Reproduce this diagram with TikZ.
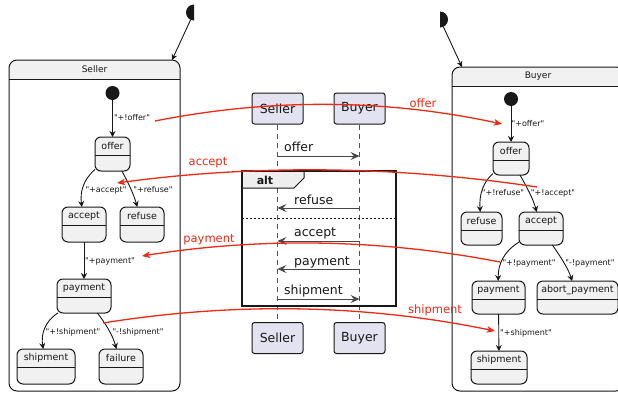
\documentclass[tikz,border=0pt]{standalone}
\usepackage{fontspec}
\setmainfont{DejaVu Sans}[Ligatures=TeXOff]
\usetikzlibrary{arrows.meta,calc}

\definecolor{stfill}{HTML}{F1F1F1}
\definecolor{ink}{HTML}{181818}
\definecolor{partfill}{HTML}{E2E2F0}
\definecolor{altfill}{HTML}{EEEEEE}
\definecolor{msgred}{RGB}{240,40,20}

\tikzset{
  stbox/.style={draw=ink, fill=stfill, line width=1pt, rounded corners=6pt, inner sep=0pt, outer sep=0pt},
  compbox/.style={fill=white, inner sep=0pt, outer sep=0pt},
  stline/.style={draw=ink, line width=1pt},
  stname/.style={inner sep=0pt, font=\fontsize{9.5}{11}\selectfont, text=ink},
  comptitle/.style={inner sep=0pt, font=\fontsize{9}{11}\selectfont, text=ink},
  edgelbl/.style={inner sep=0pt, font=\fontsize{8}{10}\selectfont, text=ink},
  initdot/.style={circle, fill=ink, inner sep=0pt, outer sep=0pt, minimum size=14pt},
  bigdot/.style={circle, fill=ink, inner sep=0pt, outer sep=0pt, minimum size=16pt},
  trans/.style={draw=ink, line width=0.9pt, -{Stealth[length=6pt,width=6pt,inset=2pt]}},
  part/.style={draw=ink, fill=partfill, line width=1pt, rounded corners=2.5pt, minimum width=51pt, minimum height=31pt, inner sep=0pt, font=\fontsize{12.5}{14}\selectfont, text=ink},
  lifeline/.style={draw=ink!75, line width=1pt, dash pattern=on 5pt off 4pt},
  msg/.style={draw=ink!80, line width=1pt, -{Stealth[length=9pt,width=8pt,inset=3.5pt]}},
  msgtxt/.style={inner sep=0pt, font=\fontsize{12.5}{14}\selectfont, text=ink},
  redmsg/.style={draw=msgred, line width=1.3pt, -{Stealth[length=8pt,width=6.5pt,inset=2pt]}},
  redtxt/.style={inner sep=0pt, font=\fontsize{11.5}{13}\selectfont, text=msgred},
}

% simple state: name, centre x, top y, width, height, label
\newcommand\umlstate[6]{%
  \node[stbox, minimum width=#4pt, minimum height=#5pt, anchor=north] (#1) at (#2,#3) {};
  \draw[stline] ([yshift=-18pt]#1.north west) -- ([yshift=-18pt]#1.north east);
  \node[stname] (#1-name) at ([yshift=-9pt]#1.north) {#6};
}

% composite state frame: name, left x, top y, width, height, title
\newcommand\umlcomposite[6]{%
  \node[compbox, minimum width=#4pt, minimum height=#5pt, anchor=north west] (#1) at (#2,#3) {};
  \begin{scope}
    \clip[rounded corners=8pt] (#1.north west) rectangle (#1.south east);
    \fill[stfill] (#1.north west) rectangle ([yshift=-19pt]#1.north east);
  \end{scope}
  \draw[stline, rounded corners=8pt] (#1.north west) rectangle (#1.south east);
  \draw[stline] ([yshift=-19pt]#1.north west) -- ([yshift=-19pt]#1.north east);
  \node[comptitle] (#1-title) at ([yshift=-9.5pt]#1.north) {#6};
}

\begin{document}
\begin{tikzpicture}[x=1pt, y=-1pt]
\fill[white] (0,0) rectangle (618,394);
\useasboundingbox (0,0) rectangle (618,394);

% ---------------- Seller state machine ----------------
\umlcomposite{seller}{9}{60}{171}{331}{Seller}
\begin{scope}
  \clip (150,0) rectangle (194,40);
  \node[bigdot] (sellerstart) at (194,12.5) {};
\end{scope}
\draw[trans] (sellerstart) -- ([xshift=-8pt]seller.north east);

\node[initdot] (s_init) at (112.5,93) {};
\umlstate{s_offer}{112.5}{137}{35}{34}{offer}
\umlstate{s_accept}{84}{207}{44}{35}{accept}
\umlstate{s_refuse}{142}{207}{44}{35}{refuse}
\umlstate{s_pay}{84}{279}{54}{34}{payment}
\umlstate{s_ship}{46}{349}{58}{35}{shipment}
\umlstate{s_fail}{121}{349}{44}{35}{failure}

\draw[trans] (s_init) -- (s_offer);
\draw[trans] (s_offer) .. controls (83,180) and (80,192) .. (s_accept);
\draw[trans] (s_offer) .. controls (128,182) and (134,195) .. (s_refuse);
\draw[trans] (s_accept) -- (s_pay);
\draw[trans] (s_pay) .. controls (44,322) and (41,335) .. (s_ship);
\draw[trans] (s_pay) .. controls (106,324) and (113,336) .. (s_fail);

\node[edgelbl] (l_s1) at (132,118) {"+!offer"};
\node[edgelbl] (l_s2) at (106,190) {"+accept"};
\node[edgelbl] (l_s3) at (153,190) {"+refuse"};
\node[edgelbl] (l_s4) at (110,261) {"+payment"};
\node[edgelbl] (l_s5) at (73,332) {"+!shipment"};
\node[edgelbl] (l_s6) at (138,332) {"-!shipment"};

% ---------------- Buyer state machine ----------------
\umlcomposite{buyer}{452}{67}{172}{324}{Buyer}
\begin{scope}
  \clip (440,0) rectangle (470,40);
  \node[bigdot] (buyerstart) at (440,19.5) {};
\end{scope}
\draw[trans] (buyerstart) -- ([xshift=10pt]buyer.north west);

\node[initdot] (b_init) at (511,99) {};
\umlstate{b_offer}{511}{142}{36}{33}{offer}
\umlstate{b_refuse}{481.5}{212}{41}{33}{refuse}
\umlstate{b_accept}{541}{212}{44}{33}{accept}
\umlstate{b_pay}{498.5}{281}{53}{33}{payment}
\umlstate{b_abort}{577.5}{281}{81}{33}{abort\_payment}
\umlstate{b_ship}{499}{351}{56}{33}{shipment}

\draw[trans] (b_init) -- (b_offer);
\draw[trans] (b_offer) .. controls (483,182) and (479,195) .. (b_refuse);
\draw[trans] (b_offer) .. controls (526,186) and (533,198) .. (b_accept);
\draw[trans] (b_accept) .. controls (503,252) and (498,265) .. (b_pay);
\draw[trans] (b_accept) .. controls (560,256) and (568,268) .. (b_abort);
\draw[trans] (b_pay) -- (b_ship);

\node[edgelbl] (l_b1) at (528,124) {"+offer"};
\node[edgelbl] (l_b2) at (503,193) {"+!refuse"};
\node[edgelbl] (l_b3) at (553,193) {"+!accept"};
\node[edgelbl] (l_b4) at (529,263) {"+!payment"};
\node[edgelbl] (l_b5) at (590,263) {"-!payment"};
\node[edgelbl] (l_b6) at (526,333) {"+shipment"};

% ---------------- sequence diagram ----------------
\node[part] (q_s1) at (277.5,108.5) {Seller};
\node[part] (q_b1) at (359.5,108.5) {Buyer};
\node[part] (q_s2) at (277.5,338) {Seller};
\node[part] (q_b2) at (359.5,338) {Buyer};
\draw[lifeline] (q_s1.south) -- (q_s2.north);
\draw[lifeline] (q_b1.south) -- (q_b2.north);

% alt fragment
\node[inner sep=0pt, outer sep=0pt, minimum width=154pt, minimum height=135pt, anchor=north west] (altbox) at (242,171) {};
\draw[fill=altfill, draw=ink, line width=1pt] (altbox.north west) -- ++(62,0) -- ++(0,7) -- ++(-10,10) -- ++(-52,0) -- cycle;
\node[inner sep=0pt, font=\fontsize{11}{13}\selectfont\bfseries, text=ink] (alttag) at (265,180) {alt};
\draw[ink, line width=2pt] (altbox.north west) rectangle (altbox.south east);
\draw[ink, line width=1pt, dash pattern=on 2pt off 2pt] (altbox.west |- 0,218) -- (altbox.east |- 0,218);

\draw[msg] (q_s1.south |- 0,156) -- (q_b1.south |- 0,156);
\draw[msg] (q_b1.south |- 0,208) -- (q_s1.south |- 0,208);
\draw[msg] (q_b1.south |- 0,241) -- (q_s1.south |- 0,241);
\draw[msg] (q_b1.south |- 0,269) -- (q_s1.south |- 0,269);
\draw[msg] (q_s1.south |- 0,299) -- (q_b1.south |- 0,299);

\node[msgtxt, anchor=base west] (m1) at (284,151.5) {offer};
\node[msgtxt, anchor=base west] (m2) at (294,204.5) {refuse};
\node[msgtxt, anchor=base west] (m3) at (294,236.5) {accept};
\node[msgtxt, anchor=base west] (m4) at (294,265) {payment};
\node[msgtxt, anchor=base west] (m5) at (284,294) {shipment};

% ---------------- message links between the machines ----------------
\coordinate (r1a) at (155,121);
\coordinate (r1b) at (502,124);
\coordinate (r2a) at (537,187);
\coordinate (r2b) at (117,183);
\coordinate (r3a) at (500,262);
\coordinate (r3b) at (142,256);
\coordinate (r4a) at (103,323);
\coordinate (r4b) at (495,331);

\draw[redmsg] (r1a) .. controls (271,98) and (386,99) .. (r1b);
\draw[redmsg] (r2a) .. controls (397,166) and (257,164) .. (r2b);
\draw[redmsg] (r3a) .. controls (381,239) and (261,237) .. (r3b);
\draw[redmsg] (r4a) .. controls (234,302) and (364,304) .. (r4b);

\node[redtxt] (t1) at (423,103) {offer};
\node[redtxt] (t2) at (208,163) {accept};
\node[redtxt] (t3) at (209,240) {payment};
\node[redtxt] (t4) at (435,310) {shipment};
\end{tikzpicture}
\end{document}
